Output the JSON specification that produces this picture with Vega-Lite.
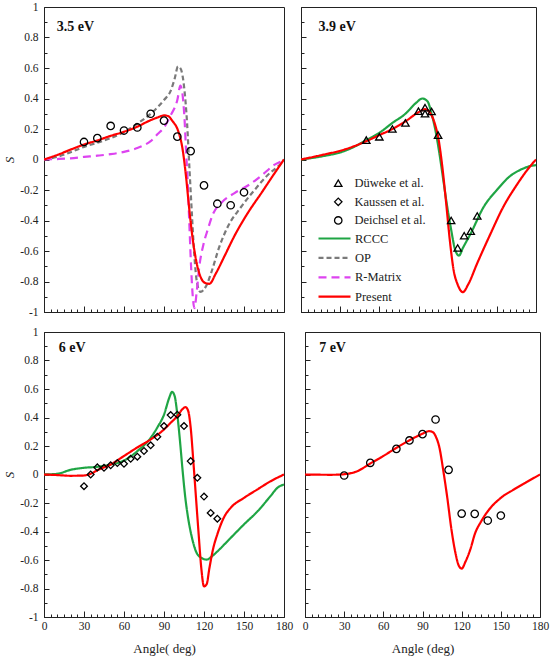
{
  "$schema": "https://vega.github.io/schema/vega-lite/v6.json",
  "description": "Spin asymmetry S versus scattering angle at four energies",
  "background": "white",
  "padding": {"left": 3, "top": 0, "right": 2, "bottom": 0},
  "datasets": {
    "curves": [
      {"energy": "3.5 eV", "model": "OP", "angle": 0, "S": 0},
      {"energy": "3.5 eV", "model": "OP", "angle": 10, "S": 0.018},
      {"energy": "3.5 eV", "model": "OP", "angle": 20, "S": 0.048},
      {"energy": "3.5 eV", "model": "OP", "angle": 30, "S": 0.083},
      {"energy": "3.5 eV", "model": "OP", "angle": 40, "S": 0.11},
      {"energy": "3.5 eV", "model": "OP", "angle": 50, "S": 0.14},
      {"energy": "3.5 eV", "model": "OP", "angle": 60, "S": 0.18},
      {"energy": "3.5 eV", "model": "OP", "angle": 70, "S": 0.235},
      {"energy": "3.5 eV", "model": "OP", "angle": 80, "S": 0.3},
      {"energy": "3.5 eV", "model": "OP", "angle": 90, "S": 0.39},
      {"energy": "3.5 eV", "model": "OP", "angle": 95, "S": 0.45},
      {"energy": "3.5 eV", "model": "OP", "angle": 98, "S": 0.53},
      {"energy": "3.5 eV", "model": "OP", "angle": 100.5, "S": 0.61},
      {"energy": "3.5 eV", "model": "OP", "angle": 102.5, "S": 0.595},
      {"energy": "3.5 eV", "model": "OP", "angle": 105.3, "S": 0.458},
      {"energy": "3.5 eV", "model": "OP", "angle": 107.3, "S": 0.24},
      {"energy": "3.5 eV", "model": "OP", "angle": 109, "S": -0.045},
      {"energy": "3.5 eV", "model": "OP", "angle": 111, "S": -0.37},
      {"energy": "3.5 eV", "model": "OP", "angle": 112.8, "S": -0.635},
      {"energy": "3.5 eV", "model": "OP", "angle": 114.8, "S": -0.81},
      {"energy": "3.5 eV", "model": "OP", "angle": 117.3, "S": -0.868},
      {"energy": "3.5 eV", "model": "OP", "angle": 121.6, "S": -0.83},
      {"energy": "3.5 eV", "model": "OP", "angle": 125.3, "S": -0.745},
      {"energy": "3.5 eV", "model": "OP", "angle": 131.6, "S": -0.57},
      {"energy": "3.5 eV", "model": "OP", "angle": 137.9, "S": -0.44},
      {"energy": "3.5 eV", "model": "OP", "angle": 147.9, "S": -0.31},
      {"energy": "3.5 eV", "model": "OP", "angle": 157.9, "S": -0.2},
      {"energy": "3.5 eV", "model": "OP", "angle": 168, "S": -0.1},
      {"energy": "3.5 eV", "model": "OP", "angle": 178, "S": -0.023},
      {"energy": "3.5 eV", "model": "OP", "angle": 180, "S": 0},
      {"energy": "3.5 eV", "model": "R-Matrix", "angle": 0, "S": 0},
      {"energy": "3.5 eV", "model": "R-Matrix", "angle": 10, "S": 0.003},
      {"energy": "3.5 eV", "model": "R-Matrix", "angle": 20, "S": 0.008},
      {"energy": "3.5 eV", "model": "R-Matrix", "angle": 30, "S": 0.017},
      {"energy": "3.5 eV", "model": "R-Matrix", "angle": 40, "S": 0.025},
      {"energy": "3.5 eV", "model": "R-Matrix", "angle": 50, "S": 0.035},
      {"energy": "3.5 eV", "model": "R-Matrix", "angle": 60, "S": 0.05},
      {"energy": "3.5 eV", "model": "R-Matrix", "angle": 70, "S": 0.075},
      {"energy": "3.5 eV", "model": "R-Matrix", "angle": 75, "S": 0.094},
      {"energy": "3.5 eV", "model": "R-Matrix", "angle": 80, "S": 0.12},
      {"energy": "3.5 eV", "model": "R-Matrix", "angle": 85, "S": 0.165},
      {"energy": "3.5 eV", "model": "R-Matrix", "angle": 90, "S": 0.21},
      {"energy": "3.5 eV", "model": "R-Matrix", "angle": 95, "S": 0.29},
      {"energy": "3.5 eV", "model": "R-Matrix", "angle": 100, "S": 0.39},
      {"energy": "3.5 eV", "model": "R-Matrix", "angle": 102.3, "S": 0.484},
      {"energy": "3.5 eV", "model": "R-Matrix", "angle": 105.3, "S": 0.28},
      {"energy": "3.5 eV", "model": "R-Matrix", "angle": 106.5, "S": 0.064},
      {"energy": "3.5 eV", "model": "R-Matrix", "angle": 107.8, "S": -0.154},
      {"energy": "3.5 eV", "model": "R-Matrix", "angle": 109, "S": -0.42},
      {"energy": "3.5 eV", "model": "R-Matrix", "angle": 110.3, "S": -0.7},
      {"energy": "3.5 eV", "model": "R-Matrix", "angle": 111.6, "S": -0.9},
      {"energy": "3.5 eV", "model": "R-Matrix", "angle": 112.8, "S": -0.975},
      {"energy": "3.5 eV", "model": "R-Matrix", "angle": 114.5, "S": -0.87},
      {"energy": "3.5 eV", "model": "R-Matrix", "angle": 116.5, "S": -0.7},
      {"energy": "3.5 eV", "model": "R-Matrix", "angle": 119.5, "S": -0.56},
      {"energy": "3.5 eV", "model": "R-Matrix", "angle": 122.8, "S": -0.46},
      {"energy": "3.5 eV", "model": "R-Matrix", "angle": 126.6, "S": -0.36},
      {"energy": "3.5 eV", "model": "R-Matrix", "angle": 132.9, "S": -0.285},
      {"energy": "3.5 eV", "model": "R-Matrix", "angle": 142.9, "S": -0.22},
      {"energy": "3.5 eV", "model": "R-Matrix", "angle": 154, "S": -0.165},
      {"energy": "3.5 eV", "model": "R-Matrix", "angle": 163, "S": -0.106},
      {"energy": "3.5 eV", "model": "R-Matrix", "angle": 173, "S": -0.034},
      {"energy": "3.5 eV", "model": "R-Matrix", "angle": 178, "S": -0.012},
      {"energy": "3.5 eV", "model": "R-Matrix", "angle": 180, "S": 0},
      {"energy": "3.5 eV", "model": "Present", "angle": 0, "S": 0},
      {"energy": "3.5 eV", "model": "Present", "angle": 10, "S": 0.03},
      {"energy": "3.5 eV", "model": "Present", "angle": 20, "S": 0.065},
      {"energy": "3.5 eV", "model": "Present", "angle": 30, "S": 0.098},
      {"energy": "3.5 eV", "model": "Present", "angle": 40, "S": 0.125},
      {"energy": "3.5 eV", "model": "Present", "angle": 50, "S": 0.155},
      {"energy": "3.5 eV", "model": "Present", "angle": 60, "S": 0.182},
      {"energy": "3.5 eV", "model": "Present", "angle": 70, "S": 0.215},
      {"energy": "3.5 eV", "model": "Present", "angle": 78, "S": 0.25},
      {"energy": "3.5 eV", "model": "Present", "angle": 85, "S": 0.275},
      {"energy": "3.5 eV", "model": "Present", "angle": 90, "S": 0.289},
      {"energy": "3.5 eV", "model": "Present", "angle": 93, "S": 0.285},
      {"energy": "3.5 eV", "model": "Present", "angle": 96.5, "S": 0.25},
      {"energy": "3.5 eV", "model": "Present", "angle": 100.3, "S": 0.195},
      {"energy": "3.5 eV", "model": "Present", "angle": 104, "S": 0.064},
      {"energy": "3.5 eV", "model": "Present", "angle": 106.5, "S": -0.11},
      {"energy": "3.5 eV", "model": "Present", "angle": 109, "S": -0.33},
      {"energy": "3.5 eV", "model": "Present", "angle": 111.6, "S": -0.526},
      {"energy": "3.5 eV", "model": "Present", "angle": 114, "S": -0.657},
      {"energy": "3.5 eV", "model": "Present", "angle": 117.3, "S": -0.767},
      {"energy": "3.5 eV", "model": "Present", "angle": 121, "S": -0.81},
      {"energy": "3.5 eV", "model": "Present", "angle": 124, "S": -0.815},
      {"energy": "3.5 eV", "model": "Present", "angle": 129, "S": -0.745},
      {"energy": "3.5 eV", "model": "Present", "angle": 135.3, "S": -0.635},
      {"energy": "3.5 eV", "model": "Present", "angle": 142.9, "S": -0.5},
      {"energy": "3.5 eV", "model": "Present", "angle": 152.9, "S": -0.35},
      {"energy": "3.5 eV", "model": "Present", "angle": 163, "S": -0.22},
      {"energy": "3.5 eV", "model": "Present", "angle": 173, "S": -0.089},
      {"energy": "3.5 eV", "model": "Present", "angle": 180, "S": 0},
      {"energy": "3.9 eV", "model": "RCCC", "angle": 0, "S": 0},
      {"energy": "3.9 eV", "model": "RCCC", "angle": 10, "S": 0.012},
      {"energy": "3.9 eV", "model": "RCCC", "angle": 20, "S": 0.027},
      {"energy": "3.9 eV", "model": "RCCC", "angle": 30, "S": 0.046},
      {"energy": "3.9 eV", "model": "RCCC", "angle": 40, "S": 0.08},
      {"energy": "3.9 eV", "model": "RCCC", "angle": 50, "S": 0.127},
      {"energy": "3.9 eV", "model": "RCCC", "angle": 60, "S": 0.175},
      {"energy": "3.9 eV", "model": "RCCC", "angle": 70, "S": 0.24},
      {"energy": "3.9 eV", "model": "RCCC", "angle": 80, "S": 0.3},
      {"energy": "3.9 eV", "model": "RCCC", "angle": 88, "S": 0.37},
      {"energy": "3.9 eV", "model": "RCCC", "angle": 93, "S": 0.4},
      {"energy": "3.9 eV", "model": "RCCC", "angle": 97, "S": 0.38},
      {"energy": "3.9 eV", "model": "RCCC", "angle": 100, "S": 0.3},
      {"energy": "3.9 eV", "model": "RCCC", "angle": 103, "S": 0.19},
      {"energy": "3.9 eV", "model": "RCCC", "angle": 106, "S": 0.04},
      {"energy": "3.9 eV", "model": "RCCC", "angle": 109, "S": -0.135},
      {"energy": "3.9 eV", "model": "RCCC", "angle": 112, "S": -0.31},
      {"energy": "3.9 eV", "model": "RCCC", "angle": 115, "S": -0.46},
      {"energy": "3.9 eV", "model": "RCCC", "angle": 118, "S": -0.59},
      {"energy": "3.9 eV", "model": "RCCC", "angle": 121, "S": -0.63},
      {"energy": "3.9 eV", "model": "RCCC", "angle": 124, "S": -0.58},
      {"energy": "3.9 eV", "model": "RCCC", "angle": 130, "S": -0.485},
      {"energy": "3.9 eV", "model": "RCCC", "angle": 140, "S": -0.31},
      {"energy": "3.9 eV", "model": "RCCC", "angle": 150, "S": -0.2},
      {"energy": "3.9 eV", "model": "RCCC", "angle": 160, "S": -0.11},
      {"energy": "3.9 eV", "model": "RCCC", "angle": 170, "S": -0.06},
      {"energy": "3.9 eV", "model": "RCCC", "angle": 175, "S": -0.044},
      {"energy": "3.9 eV", "model": "RCCC", "angle": 180, "S": -0.037},
      {"energy": "3.9 eV", "model": "Present", "angle": 0, "S": 0},
      {"energy": "3.9 eV", "model": "Present", "angle": 10, "S": 0.018},
      {"energy": "3.9 eV", "model": "Present", "angle": 20, "S": 0.037},
      {"energy": "3.9 eV", "model": "Present", "angle": 30, "S": 0.057},
      {"energy": "3.9 eV", "model": "Present", "angle": 40, "S": 0.085},
      {"energy": "3.9 eV", "model": "Present", "angle": 50, "S": 0.12},
      {"energy": "3.9 eV", "model": "Present", "angle": 60, "S": 0.16},
      {"energy": "3.9 eV", "model": "Present", "angle": 70, "S": 0.2},
      {"energy": "3.9 eV", "model": "Present", "angle": 80, "S": 0.25},
      {"energy": "3.9 eV", "model": "Present", "angle": 90, "S": 0.31},
      {"energy": "3.9 eV", "model": "Present", "angle": 95, "S": 0.33},
      {"energy": "3.9 eV", "model": "Present", "angle": 100, "S": 0.29},
      {"energy": "3.9 eV", "model": "Present", "angle": 103, "S": 0.22},
      {"energy": "3.9 eV", "model": "Present", "angle": 105, "S": 0.15},
      {"energy": "3.9 eV", "model": "Present", "angle": 108, "S": -0.03},
      {"energy": "3.9 eV", "model": "Present", "angle": 111, "S": -0.27},
      {"energy": "3.9 eV", "model": "Present", "angle": 114, "S": -0.53},
      {"energy": "3.9 eV", "model": "Present", "angle": 117, "S": -0.73},
      {"energy": "3.9 eV", "model": "Present", "angle": 120, "S": -0.82},
      {"energy": "3.9 eV", "model": "Present", "angle": 124, "S": -0.87},
      {"energy": "3.9 eV", "model": "Present", "angle": 128, "S": -0.82},
      {"energy": "3.9 eV", "model": "Present", "angle": 135, "S": -0.68},
      {"energy": "3.9 eV", "model": "Present", "angle": 145, "S": -0.49},
      {"energy": "3.9 eV", "model": "Present", "angle": 155, "S": -0.31},
      {"energy": "3.9 eV", "model": "Present", "angle": 165, "S": -0.17},
      {"energy": "3.9 eV", "model": "Present", "angle": 175, "S": -0.05},
      {"energy": "3.9 eV", "model": "Present", "angle": 180, "S": 0},
      {"energy": "6 eV", "model": "RCCC", "angle": 0, "S": 0},
      {"energy": "6 eV", "model": "RCCC", "angle": 10, "S": 0.005},
      {"energy": "6 eV", "model": "RCCC", "angle": 20, "S": 0.033},
      {"energy": "6 eV", "model": "RCCC", "angle": 30, "S": 0.047},
      {"energy": "6 eV", "model": "RCCC", "angle": 40, "S": 0.054},
      {"energy": "6 eV", "model": "RCCC", "angle": 50, "S": 0.07},
      {"energy": "6 eV", "model": "RCCC", "angle": 60, "S": 0.098},
      {"energy": "6 eV", "model": "RCCC", "angle": 70, "S": 0.164},
      {"energy": "6 eV", "model": "RCCC", "angle": 80, "S": 0.257},
      {"energy": "6 eV", "model": "RCCC", "angle": 85, "S": 0.33},
      {"energy": "6 eV", "model": "RCCC", "angle": 90, "S": 0.42},
      {"energy": "6 eV", "model": "RCCC", "angle": 94, "S": 0.54},
      {"energy": "6 eV", "model": "RCCC", "angle": 96, "S": 0.58},
      {"energy": "6 eV", "model": "RCCC", "angle": 98, "S": 0.55},
      {"energy": "6 eV", "model": "RCCC", "angle": 100, "S": 0.42},
      {"energy": "6 eV", "model": "RCCC", "angle": 102, "S": 0.234},
      {"energy": "6 eV", "model": "RCCC", "angle": 104, "S": 0.023},
      {"energy": "6 eV", "model": "RCCC", "angle": 106, "S": -0.164},
      {"energy": "6 eV", "model": "RCCC", "angle": 108, "S": -0.3},
      {"energy": "6 eV", "model": "RCCC", "angle": 111, "S": -0.445},
      {"energy": "6 eV", "model": "RCCC", "angle": 114, "S": -0.54},
      {"energy": "6 eV", "model": "RCCC", "angle": 118, "S": -0.585},
      {"energy": "6 eV", "model": "RCCC", "angle": 122, "S": -0.597},
      {"energy": "6 eV", "model": "RCCC", "angle": 126, "S": -0.574},
      {"energy": "6 eV", "model": "RCCC", "angle": 130, "S": -0.54},
      {"energy": "6 eV", "model": "RCCC", "angle": 140, "S": -0.445},
      {"energy": "6 eV", "model": "RCCC", "angle": 150, "S": -0.35},
      {"energy": "6 eV", "model": "RCCC", "angle": 160, "S": -0.26},
      {"energy": "6 eV", "model": "RCCC", "angle": 170, "S": -0.15},
      {"energy": "6 eV", "model": "RCCC", "angle": 175, "S": -0.094},
      {"energy": "6 eV", "model": "RCCC", "angle": 180, "S": -0.07},
      {"energy": "6 eV", "model": "Present", "angle": 0, "S": 0},
      {"energy": "6 eV", "model": "Present", "angle": 10, "S": -0.004},
      {"energy": "6 eV", "model": "Present", "angle": 20, "S": -0.009},
      {"energy": "6 eV", "model": "Present", "angle": 30, "S": -0.007},
      {"energy": "6 eV", "model": "Present", "angle": 35, "S": 0.005},
      {"energy": "6 eV", "model": "Present", "angle": 40, "S": 0.03},
      {"energy": "6 eV", "model": "Present", "angle": 50, "S": 0.07},
      {"energy": "6 eV", "model": "Present", "angle": 60, "S": 0.13},
      {"energy": "6 eV", "model": "Present", "angle": 70, "S": 0.19},
      {"energy": "6 eV", "model": "Present", "angle": 80, "S": 0.246},
      {"energy": "6 eV", "model": "Present", "angle": 90, "S": 0.316},
      {"energy": "6 eV", "model": "Present", "angle": 95, "S": 0.363},
      {"energy": "6 eV", "model": "Present", "angle": 100, "S": 0.41},
      {"energy": "6 eV", "model": "Present", "angle": 104, "S": 0.46},
      {"energy": "6 eV", "model": "Present", "angle": 106, "S": 0.473},
      {"energy": "6 eV", "model": "Present", "angle": 108, "S": 0.45},
      {"energy": "6 eV", "model": "Present", "angle": 110, "S": 0.33},
      {"energy": "6 eV", "model": "Present", "angle": 112, "S": 0.094},
      {"energy": "6 eV", "model": "Present", "angle": 114, "S": -0.164},
      {"energy": "6 eV", "model": "Present", "angle": 116, "S": -0.42},
      {"energy": "6 eV", "model": "Present", "angle": 118, "S": -0.66},
      {"energy": "6 eV", "model": "Present", "angle": 120, "S": -0.785},
      {"energy": "6 eV", "model": "Present", "angle": 122, "S": -0.77},
      {"energy": "6 eV", "model": "Present", "angle": 124, "S": -0.66},
      {"energy": "6 eV", "model": "Present", "angle": 127, "S": -0.515},
      {"energy": "6 eV", "model": "Present", "angle": 130, "S": -0.42},
      {"energy": "6 eV", "model": "Present", "angle": 135, "S": -0.3},
      {"energy": "6 eV", "model": "Present", "angle": 140, "S": -0.234},
      {"energy": "6 eV", "model": "Present", "angle": 150, "S": -0.164},
      {"energy": "6 eV", "model": "Present", "angle": 160, "S": -0.105},
      {"energy": "6 eV", "model": "Present", "angle": 170, "S": -0.047},
      {"energy": "6 eV", "model": "Present", "angle": 180, "S": 0},
      {"energy": "7 eV", "model": "Present", "angle": 0, "S": 0},
      {"energy": "7 eV", "model": "Present", "angle": 20, "S": -0.002},
      {"energy": "7 eV", "model": "Present", "angle": 30, "S": 0.002},
      {"energy": "7 eV", "model": "Present", "angle": 40, "S": 0.023},
      {"energy": "7 eV", "model": "Present", "angle": 50, "S": 0.077},
      {"energy": "7 eV", "model": "Present", "angle": 60, "S": 0.13},
      {"energy": "7 eV", "model": "Present", "angle": 70, "S": 0.187},
      {"energy": "7 eV", "model": "Present", "angle": 80, "S": 0.24},
      {"energy": "7 eV", "model": "Present", "angle": 90, "S": 0.286},
      {"energy": "7 eV", "model": "Present", "angle": 95, "S": 0.304},
      {"energy": "7 eV", "model": "Present", "angle": 98, "S": 0.297},
      {"energy": "7 eV", "model": "Present", "angle": 100, "S": 0.27},
      {"energy": "7 eV", "model": "Present", "angle": 103, "S": 0.187},
      {"energy": "7 eV", "model": "Present", "angle": 106, "S": 0.023},
      {"energy": "7 eV", "model": "Present", "angle": 109, "S": -0.164},
      {"energy": "7 eV", "model": "Present", "angle": 112, "S": -0.375},
      {"energy": "7 eV", "model": "Present", "angle": 115, "S": -0.54},
      {"energy": "7 eV", "model": "Present", "angle": 118, "S": -0.644},
      {"energy": "7 eV", "model": "Present", "angle": 120, "S": -0.66},
      {"energy": "7 eV", "model": "Present", "angle": 123, "S": -0.61},
      {"energy": "7 eV", "model": "Present", "angle": 127, "S": -0.515},
      {"energy": "7 eV", "model": "Present", "angle": 130, "S": -0.42},
      {"energy": "7 eV", "model": "Present", "angle": 135, "S": -0.328},
      {"energy": "7 eV", "model": "Present", "angle": 140, "S": -0.258},
      {"energy": "7 eV", "model": "Present", "angle": 150, "S": -0.164},
      {"energy": "7 eV", "model": "Present", "angle": 160, "S": -0.105},
      {"energy": "7 eV", "model": "Present", "angle": 170, "S": -0.052},
      {"energy": "7 eV", "model": "Present", "angle": 180, "S": 0}
    ],
    "measured": [
      {"energy": "3.5 eV", "source": "Deichsel et al.", "angle": 30, "S": 0.115},
      {"energy": "3.5 eV", "source": "Deichsel et al.", "angle": 40, "S": 0.14},
      {"energy": "3.5 eV", "source": "Deichsel et al.", "angle": 50, "S": 0.22},
      {"energy": "3.5 eV", "source": "Deichsel et al.", "angle": 60, "S": 0.19},
      {"energy": "3.5 eV", "source": "Deichsel et al.", "angle": 70, "S": 0.21},
      {"energy": "3.5 eV", "source": "Deichsel et al.", "angle": 80, "S": 0.3},
      {"energy": "3.5 eV", "source": "Deichsel et al.", "angle": 90, "S": 0.255},
      {"energy": "3.5 eV", "source": "Deichsel et al.", "angle": 100, "S": 0.15},
      {"energy": "3.5 eV", "source": "Deichsel et al.", "angle": 110, "S": 0.055},
      {"energy": "3.5 eV", "source": "Deichsel et al.", "angle": 120, "S": -0.17},
      {"energy": "3.5 eV", "source": "Deichsel et al.", "angle": 130, "S": -0.29},
      {"energy": "3.5 eV", "source": "Deichsel et al.", "angle": 140, "S": -0.3},
      {"energy": "3.5 eV", "source": "Deichsel et al.", "angle": 150, "S": -0.215},
      {"energy": "3.9 eV", "source": "Düweke et al.", "angle": 50, "S": 0.127},
      {"energy": "3.9 eV", "source": "Düweke et al.", "angle": 60, "S": 0.149},
      {"energy": "3.9 eV", "source": "Düweke et al.", "angle": 70, "S": 0.2},
      {"energy": "3.9 eV", "source": "Düweke et al.", "angle": 80, "S": 0.24},
      {"energy": "3.9 eV", "source": "Düweke et al.", "angle": 90, "S": 0.317},
      {"energy": "3.9 eV", "source": "Düweke et al.", "angle": 95, "S": 0.34},
      {"energy": "3.9 eV", "source": "Düweke et al.", "angle": 95, "S": 0.3},
      {"energy": "3.9 eV", "source": "Düweke et al.", "angle": 100, "S": 0.315},
      {"energy": "3.9 eV", "source": "Düweke et al.", "angle": 105, "S": 0.16},
      {"energy": "3.9 eV", "source": "Düweke et al.", "angle": 115, "S": -0.4},
      {"energy": "3.9 eV", "source": "Düweke et al.", "angle": 120, "S": -0.58},
      {"energy": "3.9 eV", "source": "Düweke et al.", "angle": 125, "S": -0.5},
      {"energy": "3.9 eV", "source": "Düweke et al.", "angle": 130, "S": -0.47},
      {"energy": "3.9 eV", "source": "Düweke et al.", "angle": 135, "S": -0.37},
      {"energy": "6 eV", "source": "Kaussen et al.", "angle": 30, "S": -0.082},
      {"energy": "6 eV", "source": "Kaussen et al.", "angle": 35, "S": 0.0},
      {"energy": "6 eV", "source": "Kaussen et al.", "angle": 40, "S": 0.05},
      {"energy": "6 eV", "source": "Kaussen et al.", "angle": 45, "S": 0.047},
      {"energy": "6 eV", "source": "Kaussen et al.", "angle": 50, "S": 0.065},
      {"energy": "6 eV", "source": "Kaussen et al.", "angle": 55, "S": 0.08},
      {"energy": "6 eV", "source": "Kaussen et al.", "angle": 60, "S": 0.075},
      {"energy": "6 eV", "source": "Kaussen et al.", "angle": 65, "S": 0.11},
      {"energy": "6 eV", "source": "Kaussen et al.", "angle": 70, "S": 0.125},
      {"energy": "6 eV", "source": "Kaussen et al.", "angle": 75, "S": 0.165},
      {"energy": "6 eV", "source": "Kaussen et al.", "angle": 80, "S": 0.205},
      {"energy": "6 eV", "source": "Kaussen et al.", "angle": 85, "S": 0.265},
      {"energy": "6 eV", "source": "Kaussen et al.", "angle": 90, "S": 0.34},
      {"energy": "6 eV", "source": "Kaussen et al.", "angle": 95, "S": 0.417},
      {"energy": "6 eV", "source": "Kaussen et al.", "angle": 100, "S": 0.42},
      {"energy": "6 eV", "source": "Kaussen et al.", "angle": 105, "S": 0.34},
      {"energy": "6 eV", "source": "Kaussen et al.", "angle": 110, "S": 0.094},
      {"energy": "6 eV", "source": "Kaussen et al.", "angle": 115, "S": -0.023},
      {"energy": "6 eV", "source": "Kaussen et al.", "angle": 120, "S": -0.155},
      {"energy": "6 eV", "source": "Kaussen et al.", "angle": 125, "S": -0.27},
      {"energy": "6 eV", "source": "Kaussen et al.", "angle": 130, "S": -0.31},
      {"energy": "7 eV", "source": "Deichsel et al.", "angle": 30, "S": -0.007},
      {"energy": "7 eV", "source": "Deichsel et al.", "angle": 50, "S": 0.082},
      {"energy": "7 eV", "source": "Deichsel et al.", "angle": 70, "S": 0.18},
      {"energy": "7 eV", "source": "Deichsel et al.", "angle": 80, "S": 0.239},
      {"energy": "7 eV", "source": "Deichsel et al.", "angle": 90, "S": 0.283},
      {"energy": "7 eV", "source": "Deichsel et al.", "angle": 100, "S": 0.386},
      {"energy": "7 eV", "source": "Deichsel et al.", "angle": 110, "S": 0.033},
      {"energy": "7 eV", "source": "Deichsel et al.", "angle": 120, "S": -0.274},
      {"energy": "7 eV", "source": "Deichsel et al.", "angle": 130, "S": -0.276},
      {"energy": "7 eV", "source": "Deichsel et al.", "angle": 140, "S": -0.323},
      {"energy": "7 eV", "source": "Deichsel et al.", "angle": 150, "S": -0.288}
    ]
  },
  "config": {
    "font": "Liberation Serif",
    "view": {"stroke": "#222222", "strokeWidth": 1},
    "axis": {
      "grid": false,
      "domain": true,
      "domainColor": "#222222",
      "ticks": true,
      "tickColor": "#222222",
      "tickWidth": 1,
      "labelFont": "Liberation Serif",
      "labelFontSize": 11.5,
      "labelColor": "#222222",
      "labelOverlap": false,
      "labelFlush": false,
      "labelPadding": 2,
      "titleFont": "Liberation Serif",
      "titleFontSize": 13,
      "titleFontWeight": "normal",
      "titleColor": "#222222"
    },
    "title": {"font": "Liberation Serif", "fontSize": 14, "fontWeight": "bold", "color": "#111111", "anchor": "start"},
    "legend": {"labelFont": "Liberation Serif", "labelFontSize": 12.5, "labelColor": "#222222"}
  },
  "resolve": {"scale": {"color": "independent", "strokeDash": "independent", "strokeWidth": "independent", "shape": "independent"}},
  "spacing": 7,
  "vconcat": [
    {
      "spacing": 15,
      "resolve": {"scale": {"color": "independent", "strokeDash": "independent", "strokeWidth": "independent", "shape": "independent"}},
      "hconcat": [
        {
          "width": 240,
          "height": 305,
          "title": {"text": "3.5 eV", "offset": -33, "dx": 53},
          "encoding": {
            "x": {"field": "angle", "type": "quantitative", "scale": {"domain": [0, 180], "nice": false},
              "axis": {"values": [0,5,10,15,20,25,30,35,40,45,50,55,60,65,70,75,80,85,90,95,100,105,110,115,120,125,130,135,140,145,150,155,160,165,170,175,180], "labels": false, "title": null, "labelOverlap": false,
                "tickSize": {"condition": {"test": "datum.value % 30 === 0", "value": -6}, "value": -3}}},
            "y": {"field": "S", "type": "quantitative", "scale": {"domain": [-1, 1], "nice": false},
              "axis": {"values": [-1,-0.9,-0.8,-0.7,-0.6,-0.5,-0.4,-0.3,-0.2,-0.1,0,0.1,0.2,0.3,0.4,0.5,0.6,0.7,0.8,0.9,1], "labelOverlap": false,
                "labelExpr": "abs(round(datum.value*10)) % 2 === 0 ? toString(datum.value) : ''",
                "labelPadding": 11,
                "tickSize": {"condition": {"test": "abs(round(datum.value*10)) % 2 === 0", "value": -5}, "value": -3},
                "title": "S", "titleFontStyle": "italic", "titlePadding": 3}}
          },
          "layer": [
            {
              "data": {"name": "curves"},
              "transform": [{"filter": "datum.energy === '3.5 eV'"}],
              "mark": {"type": "line", "interpolate": "monotone", "clip": true},
              "encoding": {
                "color": {"field": "model", "type": "nominal", "legend": null,
                  "scale": {"domain": ["RCCC", "OP", "R-Matrix", "Present"], "range": ["#1fa544", "#7a7a7a", "#dd44f0", "#ff0000"]}},
                "strokeDash": {"field": "model", "type": "nominal", "legend": null,
                  "scale": {"domain": ["RCCC", "OP", "R-Matrix", "Present"], "range": [[1, 0], [5, 3], [8, 5], [1, 0]]}},
                "strokeWidth": {"field": "model", "type": "nominal", "legend": null,
                  "scale": {"domain": ["RCCC", "OP", "R-Matrix", "Present"], "range": [2.2, 2.2, 2.2, 2.8]}}
              }
            },
            {
              "data": {"name": "measured"},
              "transform": [{"filter": "datum.energy === '3.5 eV'"}],
              "mark": {"type": "point", "filled": false, "color": "black", "size": 55, "strokeWidth": 1.3, "opacity": 1},
              "encoding": {
                "shape": {"field": "source", "type": "nominal", "legend": null,
                  "scale": {"domain": ["Düweke et al.", "Kaussen et al.", "Deichsel et al."], "range": ["triangle-up", "diamond", "circle"]}}
              }
            }
          ]
        },
        {
          "width": 235,
          "height": 305,
          "title": {"text": "3.9 eV", "offset": -27, "dx": 18},
          "encoding": {
            "x": {"field": "angle", "type": "quantitative", "scale": {"domain": [0, 180], "nice": false},
              "axis": {"values": [0,5,10,15,20,25,30,35,40,45,50,55,60,65,70,75,80,85,90,95,100,105,110,115,120,125,130,135,140,145,150,155,160,165,170,175,180], "labels": false, "title": null, "labelOverlap": false,
                "tickSize": {"condition": {"test": "datum.value % 30 === 0", "value": -6}, "value": -3}}},
            "y": {"field": "S", "type": "quantitative", "scale": {"domain": [-1, 1], "nice": false},
              "axis": {"values": [-1,-0.9,-0.8,-0.7,-0.6,-0.5,-0.4,-0.3,-0.2,-0.1,0,0.1,0.2,0.3,0.4,0.5,0.6,0.7,0.8,0.9,1],
                "labels": false, "title": null,
                "tickSize": {"condition": {"test": "abs(round(datum.value*10)) % 2 === 0", "value": -5}, "value": -3}}}
          },
          "layer": [
            {
              "data": {"name": "curves"},
              "transform": [{"filter": "datum.energy === '3.9 eV'"}],
              "mark": {"type": "line", "interpolate": "monotone", "clip": true},
              "encoding": {
                "color": {"field": "model", "type": "nominal",
                  "scale": {"domain": ["RCCC", "OP", "R-Matrix", "Present"], "range": ["#1fa544", "#7a7a7a", "#dd44f0", "#ff0000"]},
                  "legend": {"orient": "none", "legendX": 24, "legendY": 222, "title": null, "symbolType": "M-2,0H2", "symbolSize": 256, "symbolStrokeWidth": 2.5, "labelOffset": 11, "rowPadding": 3.4}},
                "strokeDash": {"field": "model", "type": "nominal",
                  "scale": {"domain": ["RCCC", "OP", "R-Matrix", "Present"], "range": [[1, 0], [5, 3], [8, 5], [1, 0]]},
                  "legend": {"orient": "none", "legendX": 24, "legendY": 222, "title": null, "symbolType": "M-2,0H2", "symbolSize": 256, "symbolStrokeWidth": 2.5, "labelOffset": 11, "rowPadding": 3.4}},
                "strokeWidth": {"field": "model", "type": "nominal", "legend": null,
                  "scale": {"domain": ["RCCC", "OP", "R-Matrix", "Present"], "range": [2.2, 2.2, 2.2, 2.8]}}
              }
            },
            {
              "data": {"name": "measured"},
              "transform": [{"filter": "datum.energy === '3.9 eV'"}],
              "mark": {"type": "point", "filled": false, "color": "black", "size": 55, "strokeWidth": 1.3, "opacity": 1},
              "encoding": {
                "shape": {"field": "source", "type": "nominal",
                  "scale": {"domain": ["Düweke et al.", "Kaussen et al.", "Deichsel et al."], "range": ["triangle-up", "diamond", "circle"]},
                  "legend": {"orient": "none", "legendX": 31, "legendY": 170, "title": null, "symbolSize": 55, "symbolStrokeColor": "black", "symbolFillColor": "transparent", "symbolStrokeWidth": 1.3, "labelOffset": 10, "rowPadding": 4.6}}
              }
            }
          ]
        }
      ]
    },
    {
      "spacing": 7,
      "resolve": {"scale": {"color": "independent", "strokeDash": "independent", "strokeWidth": "independent", "shape": "independent"}},
      "hconcat": [
        {
          "width": 240,
          "height": 285,
          "title": {"text": "6 eV", "offset": -29, "dx": 55},
          "encoding": {
            "x": {"field": "angle", "type": "quantitative", "scale": {"domain": [0, 180], "nice": false},
              "axis": {"values": [0,5,10,15,20,25,30,35,40,45,50,55,60,65,70,75,80,85,90,95,100,105,110,115,120,125,130,135,140,145,150,155,160,165,170,175,180], "labelOverlap": false,
                "labelExpr": "datum.value % 30 === 0 ? toString(datum.value) : ''", "labelPadding": 9, "title": "Angle( deg)", "titlePadding": 8,
                "tickSize": {"condition": {"test": "datum.value % 30 === 0", "value": -6}, "value": -3}}},
            "y": {"field": "S", "type": "quantitative", "scale": {"domain": [-1, 1], "nice": false},
              "axis": {"values": [-1,-0.9,-0.8,-0.7,-0.6,-0.5,-0.4,-0.3,-0.2,-0.1,0,0.1,0.2,0.3,0.4,0.5,0.6,0.7,0.8,0.9,1], "labelOverlap": false,
                "labelExpr": "abs(round(datum.value*10)) % 2 === 0 ? toString(datum.value) : ''",
                "labelPadding": 11,
                "tickSize": {"condition": {"test": "abs(round(datum.value*10)) % 2 === 0", "value": -5}, "value": -3},
                "title": "S", "titleFontStyle": "italic", "titlePadding": 3}}
          },
          "layer": [
            {
              "data": {"name": "curves"},
              "transform": [{"filter": "datum.energy === '6 eV'"}],
              "mark": {"type": "line", "interpolate": "monotone", "clip": true},
              "encoding": {
                "color": {"field": "model", "type": "nominal", "legend": null,
                  "scale": {"domain": ["RCCC", "OP", "R-Matrix", "Present"], "range": ["#1fa544", "#7a7a7a", "#dd44f0", "#ff0000"]}},
                "strokeDash": {"field": "model", "type": "nominal", "legend": null,
                  "scale": {"domain": ["RCCC", "OP", "R-Matrix", "Present"], "range": [[1, 0], [5, 3], [8, 5], [1, 0]]}},
                "strokeWidth": {"field": "model", "type": "nominal", "legend": null,
                  "scale": {"domain": ["RCCC", "OP", "R-Matrix", "Present"], "range": [2.2, 2.2, 2.2, 2.8]}}
              }
            },
            {
              "data": {"name": "measured"},
              "transform": [{"filter": "datum.energy === '6 eV'"}],
              "mark": {"type": "point", "filled": false, "color": "black", "size": 45, "strokeWidth": 1.3, "opacity": 1},
              "encoding": {
                "shape": {"field": "source", "type": "nominal", "legend": null,
                  "scale": {"domain": ["Düweke et al.", "Kaussen et al.", "Deichsel et al."], "range": ["triangle-up", "diamond", "circle"]}}
              }
            }
          ]
        },
        {
          "width": 235,
          "height": 285,
          "title": {"text": "7 eV", "offset": -23, "dx": 17},
          "encoding": {
            "x": {"field": "angle", "type": "quantitative", "scale": {"domain": [0, 180], "nice": false},
              "axis": {"values": [0,5,10,15,20,25,30,35,40,45,50,55,60,65,70,75,80,85,90,95,100,105,110,115,120,125,130,135,140,145,150,155,160,165,170,175,180], "labelOverlap": false,
                "labelExpr": "datum.value % 30 === 0 ? toString(datum.value) : ''", "labelPadding": 9, "title": "Angle (deg)", "titlePadding": 8,
                "tickSize": {"condition": {"test": "datum.value % 30 === 0", "value": -6}, "value": -3}}},
            "y": {"field": "S", "type": "quantitative", "scale": {"domain": [-1, 1], "nice": false},
              "axis": {"values": [-1,-0.9,-0.8,-0.7,-0.6,-0.5,-0.4,-0.3,-0.2,-0.1,0,0.1,0.2,0.3,0.4,0.5,0.6,0.7,0.8,0.9,1],
                "labels": false, "title": null,
                "tickSize": {"condition": {"test": "abs(round(datum.value*10)) % 2 === 0", "value": -5}, "value": -3}}}
          },
          "layer": [
            {
              "data": {"name": "curves"},
              "transform": [{"filter": "datum.energy === '7 eV'"}],
              "mark": {"type": "line", "interpolate": "monotone", "clip": true},
              "encoding": {
                "color": {"field": "model", "type": "nominal", "legend": null,
                  "scale": {"domain": ["RCCC", "OP", "R-Matrix", "Present"], "range": ["#1fa544", "#7a7a7a", "#dd44f0", "#ff0000"]}},
                "strokeDash": {"field": "model", "type": "nominal", "legend": null,
                  "scale": {"domain": ["RCCC", "OP", "R-Matrix", "Present"], "range": [[1, 0], [5, 3], [8, 5], [1, 0]]}},
                "strokeWidth": {"field": "model", "type": "nominal", "legend": null,
                  "scale": {"domain": ["RCCC", "OP", "R-Matrix", "Present"], "range": [2.2, 2.2, 2.2, 2.8]}}
              }
            },
            {
              "data": {"name": "measured"},
              "transform": [{"filter": "datum.energy === '7 eV'"}],
              "mark": {"type": "point", "filled": false, "color": "black", "size": 55, "strokeWidth": 1.3, "opacity": 1},
              "encoding": {
                "shape": {"field": "source", "type": "nominal", "legend": null,
                  "scale": {"domain": ["Düweke et al.", "Kaussen et al.", "Deichsel et al."], "range": ["triangle-up", "diamond", "circle"]}}
              }
            }
          ]
        }
      ]
    }
  ]
}
